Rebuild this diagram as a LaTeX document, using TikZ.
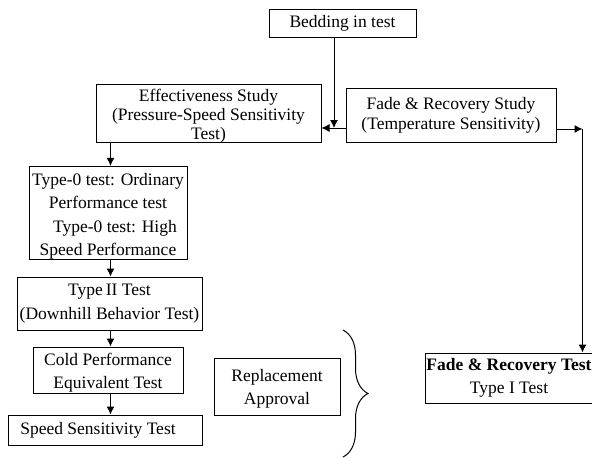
\documentclass[tikz,border=0pt]{standalone}
\usepackage{fontspec}
\setmainfont{Liberation Serif}
\usetikzlibrary{arrows.meta,decorations.pathreplacing}

\tikzset{
  box/.style={draw, line width=1pt, inner sep=0pt, align=center,
    font=\fontsize{17.5}{23}\selectfont},
  arr/.style={line width=1pt, -{Latex[length=8pt,width=8pt]}},
  plain/.style={line width=1pt}
}
% a taller first line pushes the text block slightly down
\newcommand{\lowerby}[1]{\rule{0pt}{#1}}

\begin{document}
\begin{tikzpicture}[x=1pt,y=-1pt]
  \useasboundingbox (0,0) rectangle (592,458);

  % process boxes
  \node[box, minimum width=147pt, minimum height=28pt] (bed) at (342.5,23) {Bedding in test};
  \node[box, minimum width=225pt, minimum height=57pt,
        font=\fontsize{17.5}{19}\selectfont] (eff) at (208.5,113.5)
        {\lowerby{17pt}Effectiveness Study\\(Pressure-Speed Sensitivity\\Test)};
  \node[box, minimum width=210pt, minimum height=54pt,
        font=\fontsize{17.5}{20}\selectfont] (fs) at (451,115)
        {Fade \& Recovery Study\\(Temperature Sensitivity)};
  \node[box, minimum width=158pt, minimum height=90pt,
        font=\fontsize{17.5}{23.5}\selectfont] (t0) at (108,213)
        {\lowerby{19pt}Type-0 test: Ordinary\\Performance test\\\hspace*{14pt}Type-0 test: High\\Speed Performance};
  \node[box, minimum width=185pt, minimum height=53pt,
        font=\fontsize{17.5}{24}\selectfont] (t2) at (109.5,303.5)
        {Type\,II Test\\(Downhill Behavior Test)};
  \node[box, minimum width=150pt, minimum height=46pt] (cold) at (108,370)
        {\lowerby{17pt}Cold Performance\\Equivalent Test};
  \node[box, minimum width=194pt, minimum height=30pt] (speed) at (105,430)
        {Speed Sensitivity Test\hspace*{14pt}};
  \node[box, minimum width=126pt, minimum height=57pt] (repl) at (277,386.5)
        {\lowerby{16pt}Replacement\\Approval};
  \node[box, minimum width=168pt, minimum height=50pt] (ft) at (509,378)
        {\textbf{Fade \& Recovery Test}\\Type I Test};

  % junction points of the connectors
  \coordinate (bj) at (334,128);
  \coordinate (rc) at (582.5,129);
  \coordinate (spine) at (110.5,0);

  % connectors
  \draw[arr] (bed.south -| bj) -- (bj);
  \draw[arr] (fs.west |- bj) -- (eff.east |- bj);
  \draw[arr] (fs.east |- rc) -- (rc);
  \draw[arr] (rc) -- (ft.north -| rc);
  \draw[arr] (eff.south -| spine) -- (t0.north -| spine);
  \draw[arr] (t0.south -| spine) -- (t2.north -| spine);
  \draw[arr] (t2.south -| spine) -- (cold.north -| spine);
  \draw[arr] (cold.south -| spine) -- (speed.north -| spine);

  % brace grouping the replacement tests
  \coordinate (bt) at (343,330);
  \coordinate (bb) at (343,457);
  \draw[plain, decorate, decoration={brace, amplitude=25pt, aspect=0.5}] (bt) -- (bb);
\end{tikzpicture}
\end{document}
